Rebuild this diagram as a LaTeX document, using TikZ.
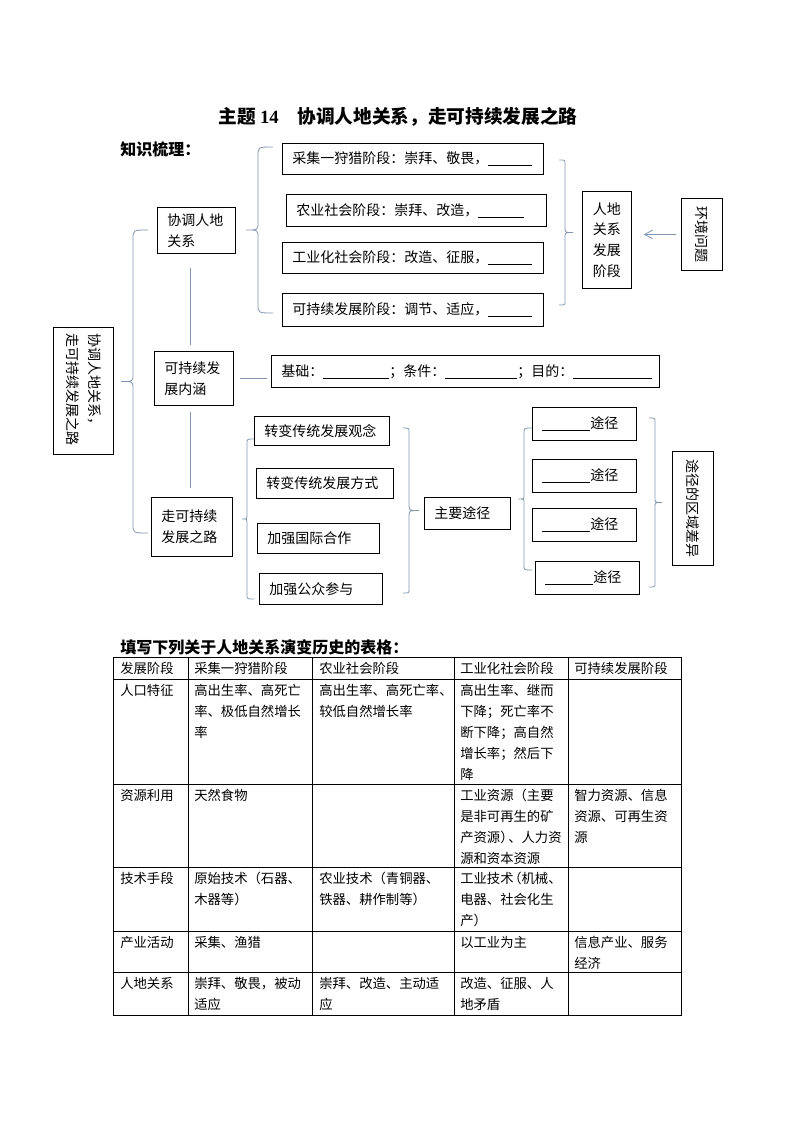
\documentclass[tikz,border=0pt]{standalone}
\usepackage{fontspec}
\setmainfont{Noto Sans CJK SC}
\newfontfamily\numfont{Liberation Serif}
\usepackage{graphicx}
\usetikzlibrary{arrows.meta}

\newdimen\pix
\pix=0.75pt
\newcommand{\fillin}[1]{\rule[-1.8pt]{#1\pix}{0.5pt}}
\definecolor{linkgray}{RGB}{128,150,176}

\tikzset{
  box/.style 2 args={draw, line width=0.6pt, anchor=north west,
    inner xsep=7.5pt, inner ysep=0pt, text width=(#1-20)*0.75pt,
    minimum height=#2*0.75pt, align=left,
    font=\fontsize{10.5pt}{15.5pt}\selectfont},
  tallbox/.style 2 args={draw, line width=0.6pt, anchor=north west,
    inner sep=0pt, minimum width=#1*0.75pt, minimum height=#2*0.75pt,
    align=center, font=\fontsize{10.5pt}{15.5pt}\selectfont},
  link/.style={draw=linkgray, line width=0.6pt},
  cell/.style={anchor=north west, inner sep=0pt, align=left,
    font=\fontsize{10pt}{15.75pt}\selectfont},
  heading/.style={anchor=west, inner sep=0pt,
    font=\fontsize{12pt}{14pt}\selectfont\bfseries},
  grid/.style={line width=0.6pt},
}

\begin{document}
\begin{tikzpicture}[x=0.75pt, y=-0.75pt]
  \useasboundingbox (0,0) rectangle (794,1123);

  \node (title) at (398,117) {\fontsize{14pt}{16pt}\selectfont\bfseries 主题 {\numfont 14}\quad 协调人地关系，走可持续发展之路};
  \node[heading] (shuli) at (120,149) {知识梳理：};

  % stages of the relation
  \node[box={261}{31}] (caiji) at (282,143) {采集一狩猎阶段：崇拜、敬畏，\fillin{44}};
  \node[box={260}{32}] (nongye) at (286,194) {农业社会阶段：崇拜、改造，\fillin{46}};
  \node[box={261}{31}] (gongye) at (282,242) {工业化社会阶段：改造、征服，\fillin{44}};
  \node[box={261}{33}] (chixu) at (282,293) {可持续发展阶段：调节、适应，\fillin{44}};
  \node[tallbox={49}{97}] (rendi) at (582,191) {人地\\关系\\发展\\阶段};
  \node[tallbox={41}{72}] (huanjing) at (681,198) {\rotatebox{-90}{环境问题}};

  \node[box={78}{46}] (xie) at (157,207) {协调人地\\关系};
  \node[tallbox={60}{127}] (zong) at (53,327) {\rotatebox{-90}{\parbox{115\pix}{\baselineskip=16.5pt 协调人地关系，\\走可持续发展之路}}};
  \node[box={79}{54}] (neihan) at (154,351) {可持续发\\展内涵};
  \node[box={388}{32}] (jichu) at (271,355) {基础：\fillin{66}；条件：\fillin{72}；目的：\fillin{79}};
  \node[box={81}{59}] (zou) at (151,497) {走可持续\\发展之路};

  % ways
  \node[box={135}{29}] (guannian) at (254,416) {转变传统发展观念};
  \node[box={137}{30}] (fangshi) at (256,468) {转变传统发展方式};
  \node[box={122}{30}] (hezuo) at (257,523) {加强国际合作};
  \node[box={123}{31}] (canyu) at (259,573) {加强公众参与};
  \node[box={86}{32}] (zhuyao) at (424,497) {主要途径};
  \foreach \ty/\tx [count=\i] in {407/532, 459/532, 508/532, 561/535}
    \node[box={104}{33}] (tujing\i) at (\tx,\ty) {\fillin{48}途径};
  \node[tallbox={41}{114}] (chayi) at (672,451) {\rotatebox{-90}{途径的区域差异}};

  % connectors
  \coordinate (spine) at (190,0);
  \draw[link, shorten <=10.5pt, shorten >=4.5pt] (xie.south -| spine) -- (neihan.north -| spine);
  \draw[link, shorten <=4.5pt, shorten >=6.75pt] (neihan.south -| spine) -- (zou.north -| spine);
  \draw[link, shorten <=4.5pt, shorten >=3pt] (neihan.east) -- (neihan.east -| jichu.west);
  \draw[link, -{Straight Barb[length=6pt,width=6.5pt]}, shorten <=3.75pt, shorten >=9pt] (huanjing.west) -- (huanjing.west -| rendi.east);

  % braces opening to the right
  \foreach \bx/\bt/\bb/\bh/\bp in {258/147/313/15/12, 133/230/533/15/12, 247/439/599/7/5, 524/428/570/8/6}{
    \pgfmathsetmacro{\bm}{(\bt+\bb)/2}
    \draw[link] (\bx+\bh,\bt) .. controls (\bx,\bt) .. (\bx,\bt+0.6*\bh) -- (\bx,\bm-0.6*\bp)
      .. controls (\bx,\bm) .. (\bx-\bp,\bm) .. controls (\bx,\bm) .. (\bx,\bm+0.6*\bp)
      -- (\bx,\bb-0.6*\bh) .. controls (\bx,\bb) .. (\bx+\bh,\bb);
  }
  % braces opening to the left
  \foreach \bx/\bt/\bb/\bh/\bp in {565/160/305/6/8, 409/428/593/6/10, 655/418/587/6/7}{
    \pgfmathsetmacro{\bm}{(\bt+\bb)/2}
    \draw[link] (\bx-\bh,\bt) .. controls (\bx,\bt) .. (\bx,\bt+0.6*\bh) -- (\bx,\bm-0.6*\bp)
      .. controls (\bx,\bm) .. (\bx+\bp,\bm) .. controls (\bx,\bm) .. (\bx,\bm+0.6*\bp)
      -- (\bx,\bb-0.6*\bh) .. controls (\bx,\bb) .. (\bx-\bh,\bb);
  }

  % table
  \node[heading] (biaoge) at (120,647) {填写下列关于人地关系演变历史的表格：};
  \draw[grid] (113,657) rectangle (681,1015);
  \foreach \cx in {188,312,454,568} \draw[grid] (\cx,657) -- (\cx,1015);
  \foreach \ry in {679,784,867,931,972} \draw[grid] (113,\ry) -- (681,\ry);

  \node[cell] (r0c1) at (120,662) {发展阶段};
  \node[cell] (r0c2) at (194,662) {采集一狩猎阶段};
  \node[cell] (r0c3) at (319,662) {农业社会阶段};
  \node[cell] (r0c4) at (460,662) {工业化社会阶段};
  \node[cell] (r0c5) at (574,662) {可持续发展阶段};

  \node[cell] (r1c1) at (120,684) {人口特征};
  \node[cell] (r1c2) at (194,684) {高出生率、高死亡\\率、极低自然增长\\率};
  \node[cell] (r1c3) at (319,684) {高出生率、高死亡率、\\较低自然增长率};
  \node[cell] (r1c4) at (460,684) {高出生率、继而\\下降；死亡率不\\断下降；高自然\\增长率；然后下\\降};

  \node[cell] (r2c1) at (120,789) {资源利用};
  \node[cell] (r2c2) at (194,789) {天然食物};
  \node[cell] (r2c4) at (460,789) {工业资源（主要\\是非可再生的矿\\产资源）\kern-0.4em、人力资\\源和资本资源};
  \node[cell] (r2c5) at (574,789) {智力资源、信息\\资源、可再生资\\源};

  \node[cell] (r3c1) at (120,872) {技术手段};
  \node[cell] (r3c2) at (194,872) {原始技术（石器、\\木器等）};
  \node[cell] (r3c3) at (319,872) {农业技术（青铜器、\\铁器、耕作制等）};
  \node[cell] (r3c4) at (460,872) {工业技术\kern-0.4em（机械、\\电器、社会化生\\产）};

  \node[cell] (r4c1) at (120,936) {产业活动};
  \node[cell] (r4c2) at (194,936) {采集、渔猎};
  \node[cell] (r4c4) at (460,936) {以工业为主};
  \node[cell] (r4c5) at (574,936) {信息产业、服务\\经济};

  \node[cell] (r5c1) at (120,977) {人地关系};
  \node[cell] (r5c2) at (194,977) {崇拜、敬畏，被动\\适应};
  \node[cell] (r5c3) at (319,977) {崇拜、改造、主动适\\应};
  \node[cell] (r5c4) at (460,977) {改造、征服、人\\地矛盾};

\end{tikzpicture}
\end{document}
